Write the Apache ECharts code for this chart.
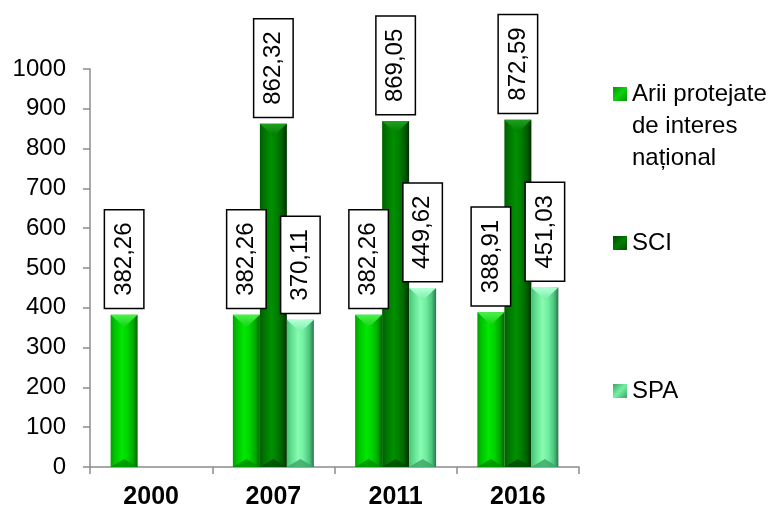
<!DOCTYPE html>
<html>
<head>
<meta charset="utf-8">
<script src="https://cdn.jsdelivr.net/npm/echarts@6/dist/echarts.min.js"></script>
<style>
  html, body { margin: 0; padding: 0; background: #fff; }
  #chart { width: 782px; height: 510px; }
</style>
</head>
<body>
<div id="chart"></div>
<script>
// Categories (years) and values per series
const categories = ['2000', '2007', '2011', '2016'];
const seriesNames = ['Arii protejate de interes național', 'SCI', 'SPA'];
const legendLines = [['Arii protejate', 'de interes', 'național'], ['SCI'], ['SPA']];
const ariiValues = [382.26, 382.26, 382.26, 388.91];
const sciValues = [null, 862.32, 869.05, 872.59];
const spaValues = [null, 370.11, 449.62, 451.03];
const yMin = 0, yMax = 1000, yStep = 100;

const FONT = 'Liberation Sans, Arial, sans-serif';
const BAR_W = 27;
const AXIS_GRAY = '#8c8c8c';

// Bevel palettes: body gradient stops, top facet, bottom facet, legend swatch
const palettes = [
  {
    body: [[0, '#00a000'], [0.14, '#00c200'], [0.42, '#00e800'], [0.62, '#00d400'], [0.84, '#00a600'], [1, '#006600']],
    top: ['#4af24a', '#14d214'], bottom: '#008c00', swatch: ['#009800', '#10d010']
  },
  {
    body: [[0, '#005e00'], [0.14, '#007200'], [0.42, '#009000'], [0.62, '#008000'], [0.84, '#005c00'], [1, '#003000']],
    top: ['#1f9f1f', '#007c00'], bottom: '#004c00', swatch: ['#004c00', '#007c00']
  },
  {
    body: [[0, '#48c076'], [0.14, '#5cdc8a'], [0.42, '#88fcb2'], [0.62, '#70ee9f'], [0.84, '#4cc47c'], [1, '#2c7450']],
    top: ['#b4ffd6', '#74f0a4'], bottom: '#3ca466', swatch: ['#3ca466', '#74f0a4']
  }
];

const valueSets = [ariiValues, sciValues, spaValues];

function fmt(v) {
  return v.toFixed(2).replace('.', ',');
}

function grad(stops, x2, y2) {
  return new echarts.graphic.LinearGradient(0, 0, x2, y2,
    stops.map(s => ({ offset: s[0], color: s[1] })));
}

// Beveled column drawn from the value through the axis scales
function makeRenderer(slot) {
  const pal = palettes[slot];
  return function (params, api) {
    const v = api.value(1);
    if (v == null || isNaN(v)) return null;
    const idx = api.value(0);
    const base = api.coord([idx, 0]);
    const topPt = api.coord([idx, v]);
    const x0 = base[0] - 1.5 * BAR_W + slot * BAR_W;
    const x1 = x0 + BAR_W;
    const xc = (x0 + x1) / 2;
    const yT = topPt[1], yB = base[1];
    const h = yB - yT;
    const dTop = Math.min(BAR_W / 2 - 1, h);
    const dBot = Math.min(8, h);
    return {
      type: 'group',
      children: [
        {
          type: 'rect',
          shape: { x: x0, y: yT, width: BAR_W, height: h },
          style: { fill: grad(pal.body, 1, 0) }
        },
        {
          type: 'polygon',
          shape: { points: [[x0, yT], [x1, yT], [xc, yT + dTop]] },
          style: { fill: grad([[0, pal.top[0]], [1, pal.top[1]]], 0, 1) }
        },
        {
          type: 'polygon',
          shape: { points: [[x0, yB], [x1, yB], [xc, yB - dBot]] },
          style: { fill: pal.bottom, opacity: 0.8 }
        }
      ]
    };
  };
}

const chart = echarts.init(document.getElementById('chart'), null, { renderer: 'canvas' });

const labelCfg = (dist) => ({
  show: true,
  position: 'top',
  distance: dist,
  rotate: 90,
  align: 'left',
  verticalAlign: 'middle',
  formatter: p => (p.value == null ? '' : fmt(p.value)),
  fontFamily: FONT,
  fontSize: 24,
  lineHeight: 24,
  color: '#000',
  backgroundColor: '#fff',
  borderColor: '#000',
  borderWidth: 1.5,
  padding: [7, 12]
});

const series = [];
// Column visuals
valueSets.forEach((vals, i) => {
  series.push({
    type: 'custom',
    name: 'col' + i,
    z: 1,
    silent: true,
    renderItem: makeRenderer(i),
    encode: { x: 0, y: 1 },
    data: vals.map((v, k) => [k, v])
  });
});
// Value labels attached to the same values
valueSets.forEach((vals, i) => {
  series.push({
    type: 'bar',
    name: seriesNames[i],
    z: 3,
    barWidth: BAR_W,
    barGap: 0,
    itemStyle: { color: 'rgba(0,0,0,0)' },
    label: labelCfg(7),
    data: vals
  });
});

// One legend block per series; the swatch sits beside the first text line
function legendAt(i, top) {
  const lines = legendLines[i];
  const pad = [];
  for (let k = 1; k < lines.length; k++) pad.push(' ');
  return {
    orient: 'vertical',
    left: 613,
    top: top,
    padding: 0,
    itemWidth: 14,
    itemHeight: 14,
    icon: 'rect',
    selectedMode: false,
    data: [{ name: seriesNames[i], itemStyle: { color: grad([[0, palettes[i].swatch[0]], [0.5, palettes[i].swatch[1]], [1, palettes[i].swatch[0]]], 1, 1) } }],
    formatter: () => pad.concat(lines).join('\n'),
    textStyle: {
      fontFamily: FONT,
      fontSize: 24,
      lineHeight: 32,
      color: '#000'
    }
  };
}

chart.setOption({
  animation: false,
  backgroundColor: '#fff',
  textStyle: { fontFamily: FONT },
  grid: { left: 90, right: 203, top: 69, bottom: 42, containLabel: false },
  legend: [
    legendAt(0, 14),
    legendAt(1, 227),
    legendAt(2, 375)
  ],
  xAxis: {
    type: 'category',
    data: categories,
    axisLine: { lineStyle: { color: AXIS_GRAY, width: 1.5 } },
    axisTick: { show: true, length: 7, lineStyle: { color: AXIS_GRAY, width: 1.5 } },
    axisLabel: { fontFamily: FONT, fontSize: 25, fontWeight: 'bold', color: '#000', margin: 18 },
    splitLine: { show: false }
  },
  yAxis: {
    type: 'value',
    min: yMin,
    max: yMax,
    interval: yStep,
    axisLine: { show: true, lineStyle: { color: AXIS_GRAY, width: 1.5 } },
    axisTick: { show: true, length: 7, lineStyle: { color: AXIS_GRAY, width: 1.5 } },
    axisLabel: { fontFamily: FONT, fontSize: 24, color: '#000', margin: 24, formatter: v => String(v) },
    splitLine: { show: false }
  },
  series: series
});
</script>
</body>
</html>
